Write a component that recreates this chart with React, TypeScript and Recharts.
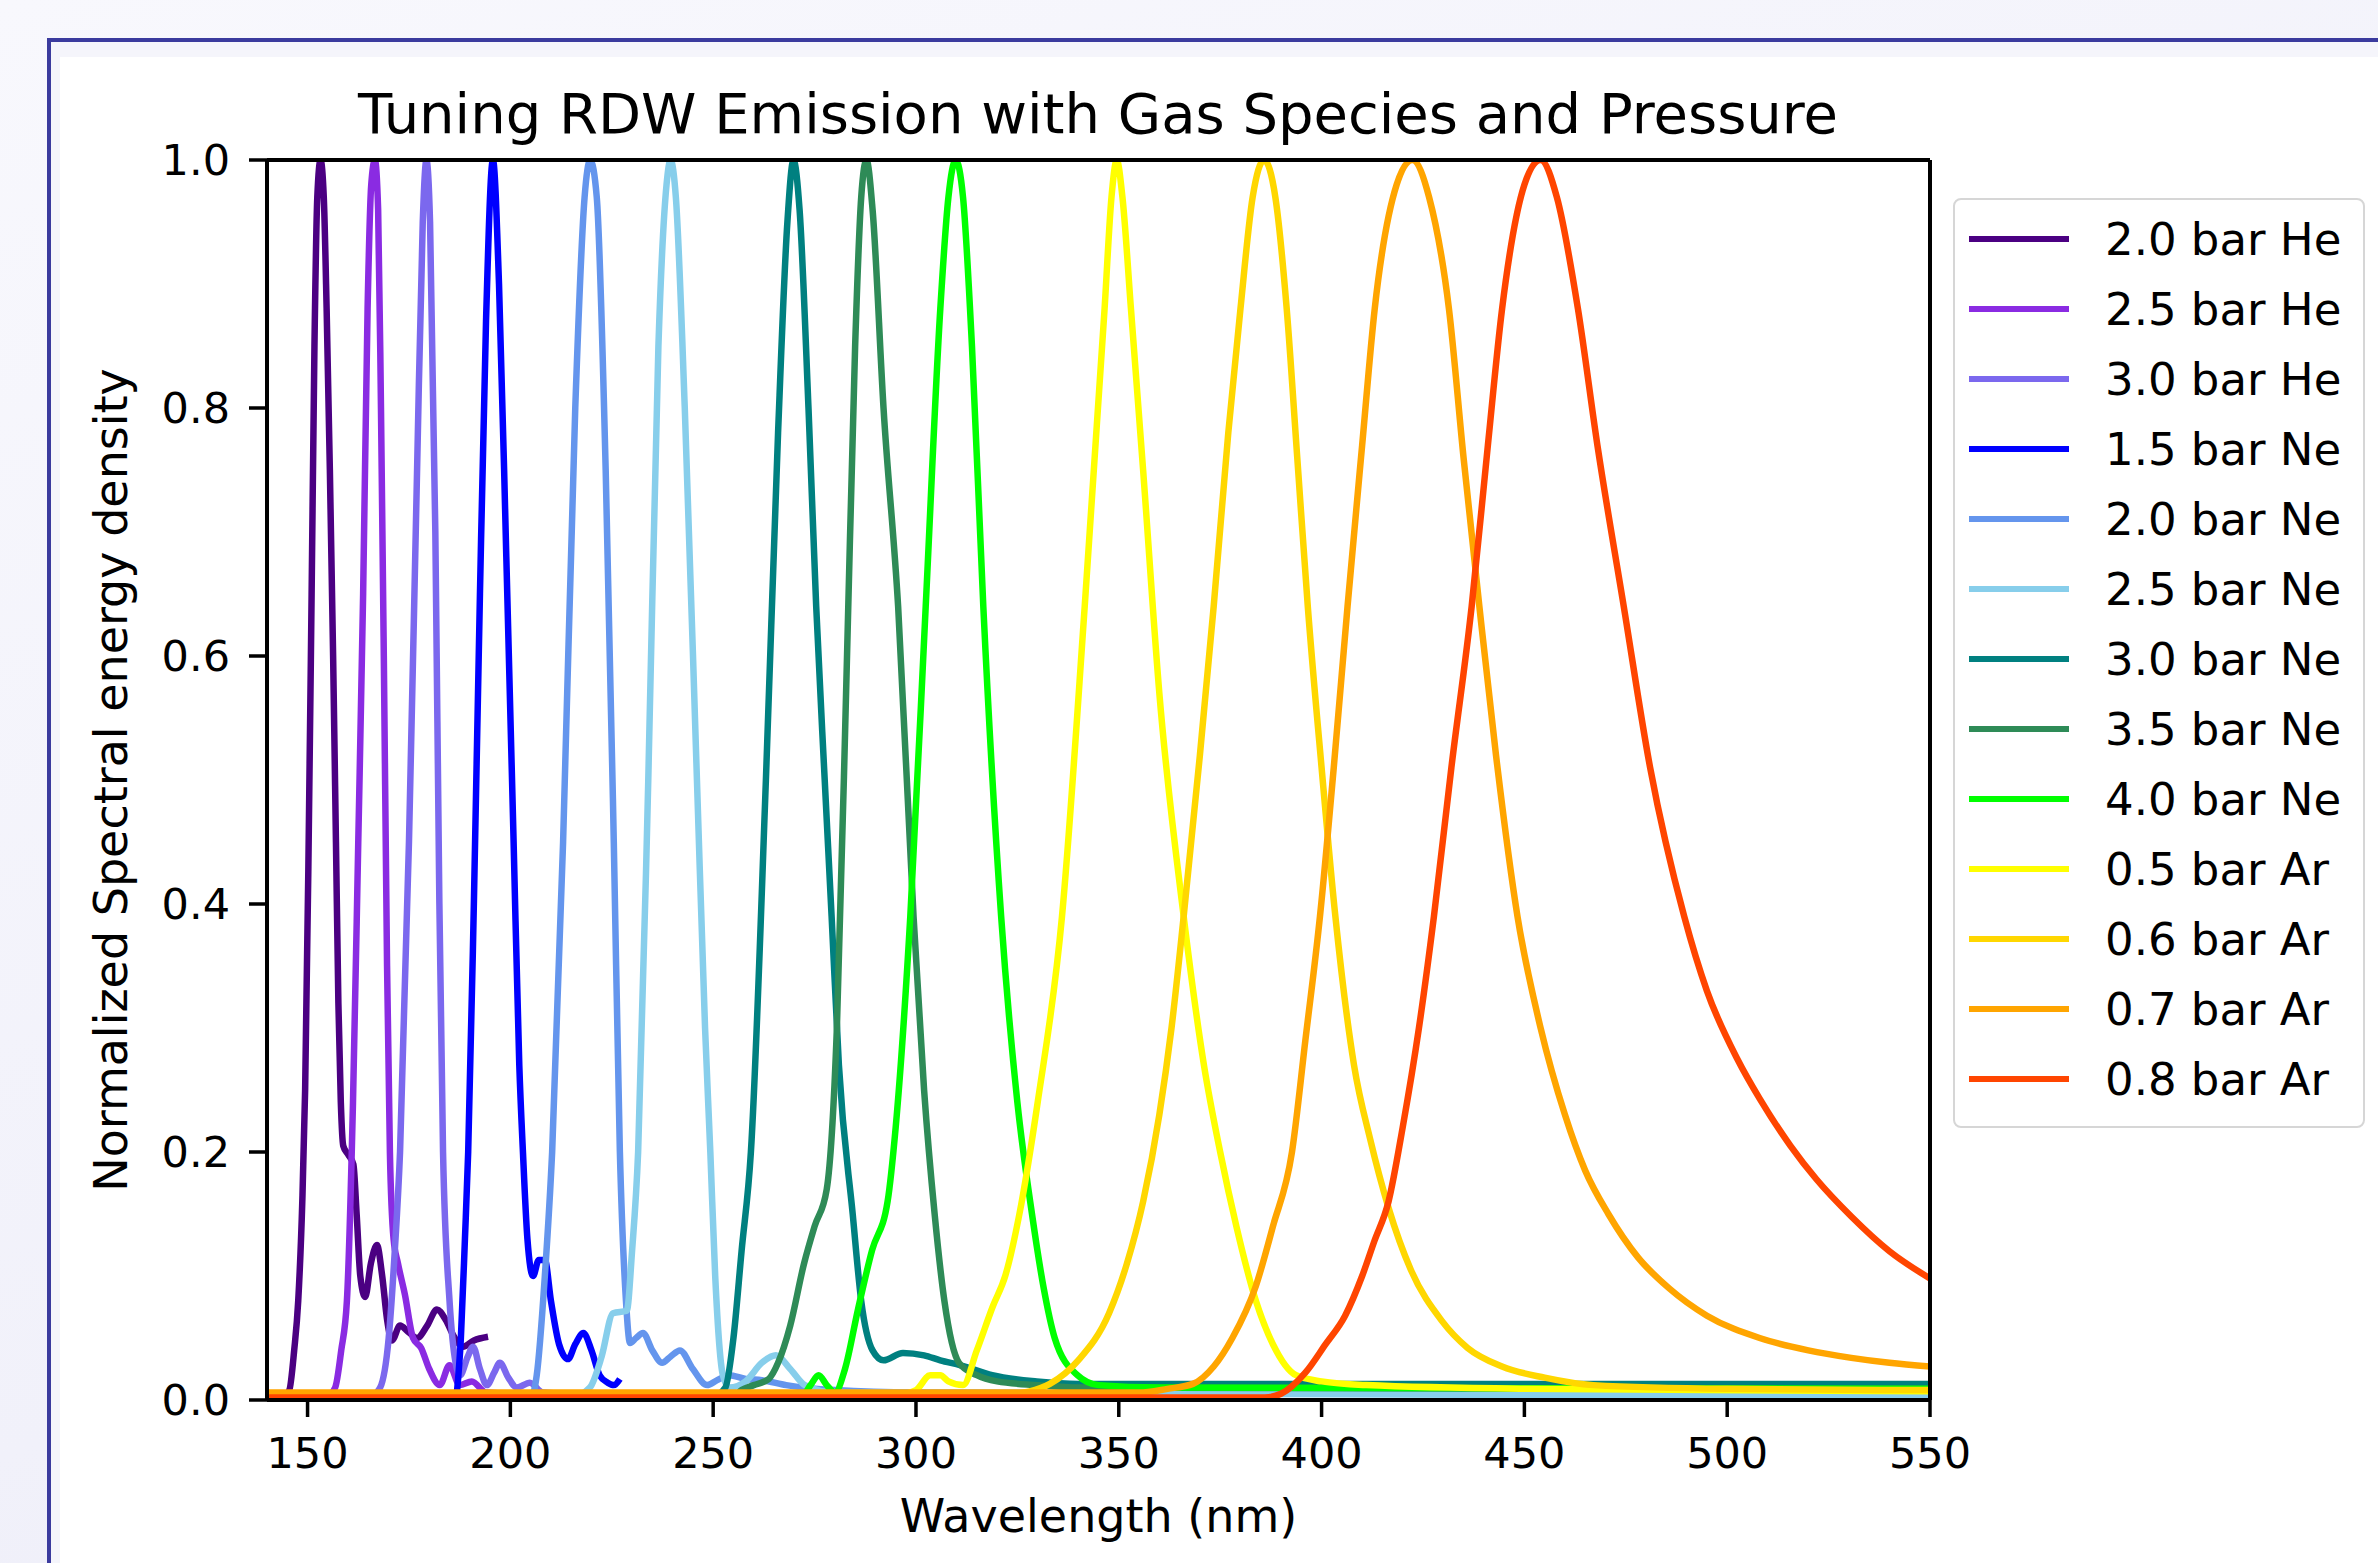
import { Legend, Line, LineChart, ReferenceLine, XAxis, YAxis } from "recharts"

// wavelength (nm), normalized spectral energy density
const he20: [number, number][] = [
    [140, 0.003], [144, 0.003], [145.5, 0.008], [146.7, 0.04], [147.7, 0.08], [148.7, 0.16], [149.4, 0.25],
    [150.2, 0.43], [151, 0.65], [151.7, 0.85], [152.4, 0.97], [153.2, 1], [154, 0.97], [154.7, 0.88],
    [155.5, 0.75], [156.3, 0.6], [157, 0.45], [157.6, 0.32], [158.2, 0.24], [158.8, 0.205], [160, 0.198],
    [161.3, 0.19], [162.1, 0.15], [163, 0.1], [164.2, 0.083], [165.6, 0.11], [167.1, 0.125], [168.4, 0.1],
    [169.6, 0.065], [170.8, 0.048], [172.8, 0.06], [174.8, 0.055], [177, 0.05], [179.5, 0.06], [181.9, 0.073],
    [184, 0.065], [186.3, 0.05], [188.3, 0.043], [191, 0.048], [194.5, 0.051],
]
const he25: [number, number][] = [
    [140, 0.003], [155, 0.004], [156.8, 0.01], [158.3, 0.04], [159.7, 0.08], [161.2, 0.24], [162.5, 0.45],
    [163.7, 0.65], [164.8, 0.88], [165.7, 0.98], [166.6, 1], [167.4, 0.96], [168.1, 0.8], [168.8, 0.6],
    [169.6, 0.35], [170.3, 0.2], [171.2, 0.13], [172.3, 0.11], [174, 0.085], [176, 0.05], [178, 0.042],
    [180, 0.025], [182.6, 0.012], [185, 0.028], [187.5, 0.012], [190.5, 0.015], [194, 0.006], [210, 0.004],
    [260, 0.004],
]
const he30: [number, number][] = [
    [140, 0.002], [160, 0.002], [166, 0.004], [167.9, 0.01], [170, 0.05], [171.5, 0.12], [172.8, 0.2],
    [175, 0.45], [177, 0.75], [178.4, 0.95], [179.3, 1], [180.2, 0.95], [181.5, 0.7], [182.5, 0.4],
    [183.4, 0.2], [185, 0.08], [186.5, 0.03], [187.6, 0.02], [189.5, 0.035], [190.8, 0.043], [192.5, 0.025],
    [194.2, 0.012], [196, 0.022], [197.4, 0.03], [199.5, 0.018], [201.6, 0.01], [204.8, 0.014], [208, 0.006],
    [215, 0.005], [260, 0.005],
]
const ne15: [number, number][] = [
    [186.8, 0.005], [187.8, 0.05], [188.8, 0.13], [189.6, 0.2], [191, 0.4], [192.5, 0.65], [194, 0.87],
    [195.7, 1], [197.2, 0.9], [199, 0.68], [200.8, 0.45], [202.2, 0.27], [203.1, 0.2], [204.2, 0.13],
    [205.6, 0.1], [207, 0.113], [208.5, 0.113], [210, 0.08], [212, 0.045], [214.2, 0.033], [216, 0.045],
    [218, 0.054], [220, 0.04], [222, 0.02], [224, 0.014], [225.5, 0.012], [227, 0.017],
]
const ne20: [number, number][] = [
    [140, 0.002], [200, 0.003], [205.5, 0.005], [206.5, 0.02], [208.5, 0.1], [210.3, 0.2], [213, 0.45],
    [216, 0.8], [218.3, 0.97], [219.7, 1], [221.3, 0.97], [223.5, 0.75], [225.5, 0.45], [227, 0.2],
    [228.5, 0.08], [229.5, 0.046], [231, 0.05], [232.7, 0.054], [235, 0.04], [237.4, 0.03], [239.5, 0.035],
    [241.8, 0.04], [245, 0.025], [248.5, 0.012], [251, 0.016], [253.9, 0.02], [258, 0.017], [262, 0.016],
    [268, 0.012], [280, 0.008], [300, 0.006], [550, 0.004],
]
const ne25: [number, number][] = [
    [140, 0.002], [215, 0.002], [219.6, 0.01], [222.5, 0.035], [225.3, 0.07], [228.7, 0.072], [230, 0.12],
    [231.5, 0.2], [234, 0.5], [236.5, 0.85], [238.5, 0.98], [239.5, 1], [240.8, 0.97], [243, 0.8],
    [246, 0.5], [248, 0.3], [249.3, 0.2], [250.5, 0.1], [252.4, 0.02], [254, 0.01], [258, 0.015],
    [262, 0.03], [265.5, 0.036], [269, 0.025], [272.6, 0.012], [280, 0.006], [550, 0.003],
]
const ne30: [number, number][] = [
    [140, 0.002], [250, 0.003], [253, 0.01], [255, 0.05], [257, 0.12], [259.3, 0.2], [263, 0.5],
    [266, 0.78], [268.3, 0.95], [269.8, 1], [271.3, 0.96], [273.5, 0.8], [275.4, 0.64], [277.5, 0.5],
    [279.2, 0.39], [281, 0.27], [284.4, 0.15], [286.5, 0.08], [289.3, 0.04], [292, 0.032], [296.8, 0.038],
    [302, 0.036], [306, 0.032], [311, 0.028], [318.8, 0.02], [329.8, 0.015], [340, 0.013], [400, 0.013],
    [550, 0.013],
]
const ne35: [number, number][] = [
    [140, 0.002], [255, 0.003], [257, 0.008], [260, 0.012], [263.7, 0.017], [266, 0.03], [269, 0.06],
    [272.4, 0.11], [275, 0.14], [278, 0.17], [280.5, 0.3], [283, 0.6], [285, 0.85], [286.5, 0.97],
    [287.8, 1], [289.3, 0.96], [292, 0.8], [295.6, 0.64], [299.4, 0.39], [302, 0.25], [304.6, 0.15],
    [307, 0.08], [310.6, 0.03], [315, 0.02], [320, 0.015], [330, 0.012], [340, 0.01], [550, 0.009],
]
const ne40: [number, number][] = [
    [140, 0.002], [272, 0.004], [274, 0.012], [276, 0.02], [278, 0.012], [280, 0.006], [282.5, 0.025],
    [285.7, 0.073], [289.2, 0.121], [293, 0.16], [295, 0.22], [298.6, 0.39], [302.4, 0.64], [306, 0.88],
    [308, 0.97], [309.8, 1], [311.6, 0.97], [313.8, 0.85], [316.6, 0.64], [321, 0.39], [325, 0.24],
    [328.6, 0.15], [331.5, 0.09], [334.2, 0.05], [339.8, 0.02], [345, 0.012], [360, 0.01], [550, 0.009],
]
const ar05: [number, number][] = [
    [140, 0.003], [295, 0.004], [300, 0.008], [303.5, 0.02], [306, 0.02], [308, 0.015], [311.6, 0.012],
    [315, 0.04], [319, 0.076], [322, 0.1], [325.5, 0.15], [330, 0.24], [336, 0.39], [341.6, 0.64],
    [346.5, 0.88], [348.2, 0.97], [349.5, 1], [350.9, 0.97], [353, 0.88], [356, 0.75], [360, 0.57],
    [366, 0.39], [371, 0.27], [375, 0.2], [379, 0.14], [383.8, 0.08], [388, 0.045], [393.7, 0.02],
    [400, 0.015], [411, 0.012], [450, 0.009], [550, 0.007],
]
const ar06: [number, number][] = [
    [140, 0.003], [320, 0.004], [328, 0.007], [333, 0.013], [340, 0.032], [347.6, 0.07], [352, 0.11],
    [356, 0.16], [360, 0.23], [363, 0.3], [366, 0.39], [370, 0.52], [373.4, 0.64], [377, 0.78], [380, 0.88],
    [383, 0.97], [385.8, 1], [388.6, 0.97], [391.4, 0.88], [394, 0.76], [396.6, 0.64], [400, 0.51],
    [403.4, 0.39], [408, 0.27], [412, 0.21], [416.5, 0.155], [422, 0.105], [429.6, 0.064], [436, 0.042],
    [444.5, 0.027], [455, 0.018], [467, 0.012], [500, 0.009], [550, 0.008],
]
const ar07: [number, number][] = [
    [140, 0.006], [355, 0.006], [362, 0.009], [368.3, 0.013], [373.4, 0.027], [378, 0.05], [383.8, 0.092],
    [388, 0.14], [392.7, 0.2], [396, 0.29], [399.6, 0.39], [403, 0.51], [406.4, 0.64], [410, 0.77],
    [413.1, 0.88], [418.5, 0.98], [422.4, 1], [426.5, 0.97], [431.4, 0.88], [435, 0.76], [438.9, 0.64],
    [443, 0.52], [448.3, 0.39], [454, 0.3], [460, 0.23], [465, 0.185], [470.7, 0.15], [478, 0.115],
    [485.7, 0.09], [495, 0.068], [508, 0.05], [520, 0.04], [530.6, 0.034], [540, 0.03], [550, 0.027],
]
const ar08: [number, number][] = [
    [140, 0.002], [386, 0.002], [390, 0.005], [396, 0.022], [401, 0.045], [405.8, 0.068], [410, 0.1],
    [413, 0.128], [416.5, 0.16], [420, 0.22], [424, 0.3], [427.7, 0.39], [432, 0.51], [437, 0.64],
    [441, 0.77], [444.5, 0.88], [450, 0.98], [454, 1], [458, 0.97], [463.2, 0.88], [468, 0.77],
    [474.5, 0.64], [481, 0.51], [489.4, 0.39], [495, 0.33], [502.5, 0.275], [508, 0.243], [515.6, 0.205],
    [522, 0.178], [530.6, 0.148], [540, 0.12], [550, 0.098],
]

const seriesNames = [
    "2.0 bar He", "2.5 bar He", "3.0 bar He", "1.5 bar Ne", "2.0 bar Ne", "2.5 bar Ne", "3.0 bar Ne",
    "3.5 bar Ne", "4.0 bar Ne", "0.5 bar Ar", "0.6 bar Ar", "0.7 bar Ar", "0.8 bar Ar",
]
const seriesColors = [
    "#4b0082", "#8a2be2", "#7b68ee", "#0000ff", "#6495ed", "#87ceeb", "#008080",
    "#2e8b57", "#00ff00", "#ffff00", "#ffd700", "#ffa500", "#ff4500",
]
const seriesData = [he20, he25, he30, ne15, ne20, ne25, ne30, ne35, ne40, ar05, ar06, ar07, ar08]

const xTicks = [150, 200, 250, 300, 350, 400, 450, 500, 550]
const yTicks = [0, 0.2, 0.4, 0.6, 0.8, 1.0]

const FONT = "'DejaVu Sans', sans-serif"

const series = seriesNames.map((name, i) => ({
    name,
    color: seriesColors[i],
    points: seriesData[i].map(([x, y]) => ({ x, y })),
}))

function LegendBox(props: any) {
    // keep the plotting order, not alphabetical
    const items = [...(props.payload || [])].sort(
        (a: any, b: any) => seriesNames.indexOf(a.value) - seriesNames.indexOf(b.value)
    )
    return (
        <div
            style={{
                boxSizing: "border-box",
                width: 412,
                height: 930,
                border: "2px solid #d6d6d6",
                borderRadius: 8,
                background: "rgba(255,255,255,0.8)",
                paddingTop: 4,
                fontFamily: FONT,
            }}
        >
            {items.map((item: any) => (
                <div key={item.value} style={{ display: "flex", alignItems: "center", height: 70 }}>
                    <div style={{ marginLeft: 14, width: 100, height: 6.5, background: item.color }} />
                    <span style={{ marginLeft: 36, fontSize: 45, color: "#000", whiteSpace: "nowrap" }}>{item.value}</span>
                </div>
            ))}
        </div>
    )
}

export default function App() {
    return (
        <div
            style={{
                position: "absolute",
                left: 0,
                top: 0,
                width: 2378,
                height: 1563,
                overflow: "hidden",
                background: "linear-gradient(160deg, #f8f8fd 0%, #f1f1fa 60%, #e9e9f6 100%)",
                fontFamily: FONT,
            }}
        >
            <div
                style={{
                    position: "absolute",
                    left: 47,
                    top: 38,
                    width: 2400,
                    height: 1600,
                    borderLeft: "4px solid #3b3b9e",
                    borderTop: "4px solid #3b3b9e",
                    background: "#f5f5fb",
                }}
            />
            <div style={{ position: "absolute", left: 60, top: 57, width: 2400, height: 1600, background: "#fff" }} />
            <div
                style={{
                    position: "absolute",
                    left: 0,
                    width: 2196,
                    top: 86,
                    textAlign: "center",
                    fontSize: 56,
                    lineHeight: "55px",
                    color: "#000",
                    whiteSpace: "nowrap",
                }}
            >
                Tuning RDW Emission with Gas Species and Pressure
            </div>
            <div style={{ position: "absolute", left: 0, top: 0 }}>
                <LineChart width={2378} height={1563} margin={{ top: 160, right: 448, bottom: 23, left: 67 }}>
                    <XAxis
                        type="number"
                        dataKey="x"
                        domain={[140, 550]}
                        ticks={xTicks}
                        allowDataOverflow
                        height={140}
                        tickSize={17}
                        tickMargin={20}
                        axisLine={{ stroke: "#000", strokeWidth: 4 }}
                        tickLine={{ stroke: "#000", strokeWidth: 3.5 }}
                        tick={{ fill: "#000", fontSize: 43, fontFamily: FONT }}
                        label={{
                            value: "Wavelength (nm)",
                            position: "insideBottom",
                            offset: 8,
                            fill: "#000",
                            fontSize: 46,
                            fontFamily: FONT,
                        }}
                    />
                    <YAxis
                        type="number"
                        dataKey="y"
                        domain={[0, 1]}
                        ticks={yTicks}
                        allowDataOverflow
                        width={200}
                        tickSize={18}
                        tickMargin={19}
                        tickFormatter={(v: number) => v.toFixed(1)}
                        axisLine={{ stroke: "#000", strokeWidth: 4 }}
                        tickLine={{ stroke: "#000", strokeWidth: 3.5 }}
                        tick={{ fill: "#000", fontSize: 43, fontFamily: FONT }}
                        label={{
                            value: "Normalized Spectral energy density",
                            angle: -90,
                            position: "center",
                            dx: -56,
                            fill: "#000",
                            fontSize: 46,
                            fontFamily: FONT,
                        }}
                    />
                    {series.map((s) => (
                        <Line
                            key={s.name}
                            data={s.points}
                            dataKey="y"
                            name={s.name}
                            type="monotone"
                            stroke={s.color}
                            strokeWidth={6.5}
                            dot={false}
                            activeDot={false}
                            isAnimationActive={false}
                        />
                    ))}
                    <ReferenceLine y={1} stroke="#000" strokeWidth={4} />
                    <ReferenceLine x={550} stroke="#000" strokeWidth={4} />
                    <Legend
                        layout="vertical"
                        align="center"
                        verticalAlign="middle"
                        content={<LegendBox />}
                        wrapperStyle={{ left: 1953, top: 198, width: 412, height: 930 }}
                    />
                </LineChart>
            </div>
        </div>
    )
}
